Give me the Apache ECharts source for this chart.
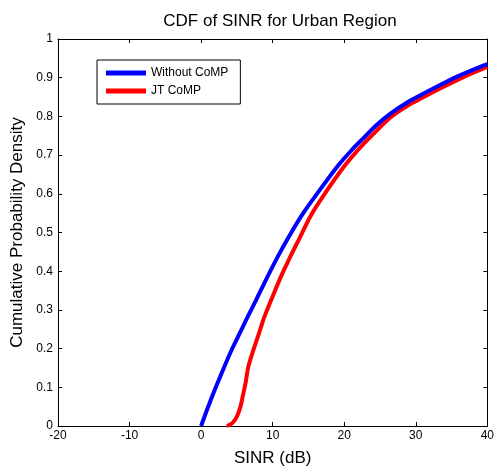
<!DOCTYPE html>
<html>
<head>
<meta charset="utf-8">
<script src="https://cdn.jsdelivr.net/npm/echarts@6/dist/echarts.min.js"></script>
<style>html,body{margin:0;padding:0;background:#fff}#c{width:497px;height:473px}</style>
</head>
<body>
<div id="c"></div>
<script>
const titleText = 'CDF of SINR for Urban Region';
const xName = 'SINR (dB)';
const yName = 'Cumulative Probability Density';
const seriesNames = ['Without CoMP', 'JT CoMP'];
const blueData = [[0,0],[1.2,0.06],[2.5,0.12],[4.1,0.19],[5.3,0.236],[6.4,0.278],[7.7,0.326],[9.2,0.383],[10.7,0.437],[12.2,0.487],[14.2,0.548],[16.6,0.61],[19.1,0.672],[21.2,0.716],[22.8,0.746],[24.6,0.779],[26.5,0.808],[28.8,0.836],[31.1,0.859],[33.4,0.881],[35.7,0.902],[37.8,0.919],[40,0.935]];
const redData = [[3.6,0],[4.4,0.008],[5.0,0.024],[5.5,0.05],[5.8,0.075],[6.2,0.11],[6.6,0.153],[7.3,0.196],[8.1,0.24],[8.8,0.28],[9.8,0.326],[11.2,0.388],[12.5,0.439],[13.8,0.487],[15.4,0.546],[17.5,0.606],[20.0,0.671],[21.9,0.713],[24.1,0.755],[26.5,0.798],[28.8,0.827],[31.1,0.85],[33.4,0.872],[35.7,0.893],[37.8,0.911],[40,0.928]];
const xMin = -20, xMax = 40, xStep = 10;
const yMin = 0, yMax = 1, yStep = 0.1;

const font = 'Liberation Sans, Arial, sans-serif';
const chart = echarts.init(document.getElementById('c'));
const axisCommon = {
  axisLine: {show: true, onZero: false, lineStyle: {color: '#000', width: 1}},
  axisTick: {show: true, inside: true, length: 4, lineStyle: {color: '#000'}},
  splitLine: {show: false}
};
chart.setOption({
  animation: false,
  backgroundColor: '#fff',
  title: {text: titleText, left: 275, top: 8, textAlign: 'center',
    textStyle: {fontFamily: font, fontSize: 17, fontWeight: 'normal', color: '#000'}},
  grid: {left: 58, right: 5, top: 39, bottom: 47},
  legend: {
    left: 97, top: 60, orient: 'vertical',
    data: seriesNames,
    icon: 'rect', itemWidth: 40, itemHeight: 5, itemGap: 6,
    padding: [7, 12, 7, 9],
    borderColor: '#000', borderWidth: 1, backgroundColor: '#fff',
    textStyle: {fontFamily: font, fontSize: 12, color: '#000'}
  },
  xAxis: [
    Object.assign({type: 'value', min: xMin, max: xMax, interval: xStep, position: 'bottom',
      name: xName, nameLocation: 'middle', nameGap: 24,
      nameTextStyle: {fontFamily: font, fontSize: 17, color: '#000'},
      axisLabel: {fontFamily: font, fontSize: 12, color: '#000', margin: 4}}, axisCommon),
    Object.assign({type: 'value', min: xMin, max: xMax, interval: xStep, position: 'top',
      axisLabel: {show: false}}, axisCommon)
  ],
  yAxis: [
    Object.assign({type: 'value', min: yMin, max: yMax, interval: yStep, position: 'left',
      name: yName, nameLocation: 'middle', nameGap: 32,
      nameTextStyle: {fontFamily: font, fontSize: 17, color: '#000'},
      axisLabel: {fontFamily: font, fontSize: 12, color: '#000', margin: 5}}, axisCommon),
    Object.assign({type: 'value', min: yMin, max: yMax, interval: yStep, position: 'right',
      axisLabel: {show: false}}, axisCommon)
  ],
  series: [
    {name: seriesNames[0], type: 'line', data: blueData, showSymbol: false, symbol: 'none',
      smooth: 0.35,
      lineStyle: {color: '#0000ff', width: 4}, itemStyle: {color: '#0000ff'}, z: 3},
    {name: seriesNames[1], type: 'line', data: redData, showSymbol: false, symbol: 'none',
      smooth: 0.35,
      lineStyle: {color: '#ff0000', width: 4}, itemStyle: {color: '#ff0000'}, z: 2}
  ]
});
</script>
</body>
</html>
